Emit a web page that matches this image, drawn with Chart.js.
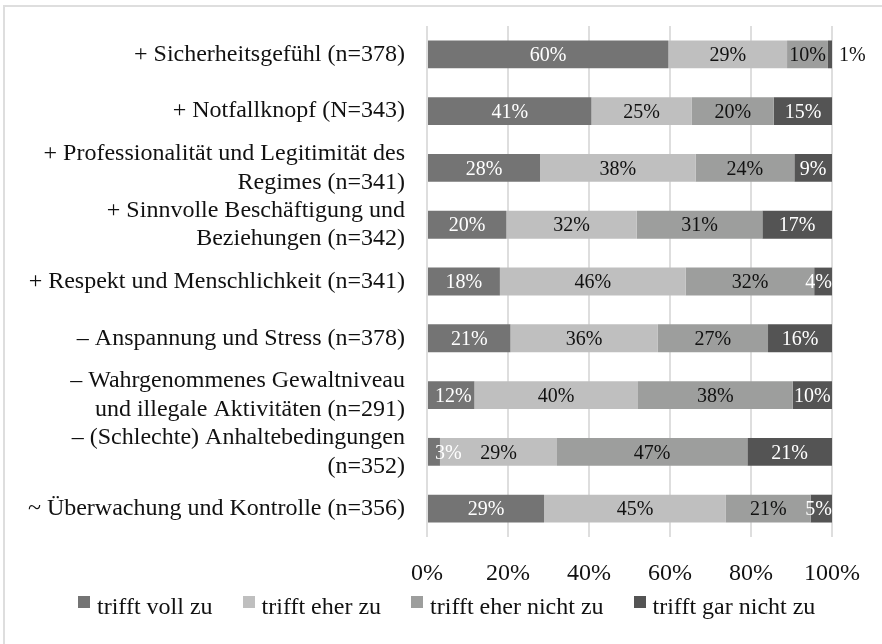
<!DOCTYPE html>
<html>
<head>
<meta charset="utf-8">
<title>Einschätzungen</title>
<script src="https://cdn.jsdelivr.net/npm/chart.js@4.4.0/dist/chart.umd.min.js"></script>
<style>
  html, body { margin: 0; padding: 0; background: #fff; }
  #wrap { position: relative; width: 882px; height: 644px; overflow: hidden;
          font-family: "Liberation Serif", "Times New Roman", serif; }
  #frame { position: absolute; left: 3px; top: 5px; width: 900px; height: 700px;
           border-left: 2px solid #dedede; border-top: 2px solid #dedede; }
  canvas { position: absolute; left: 0; top: 0; }
  #legend { position: absolute; left: 78px; top: 592px; display: flex;
            font-size: 24px; line-height: 28px; color: #111; white-space: nowrap; }
  #legend .item { display: flex; align-items: center; margin-right: 30px; }
  #legend .box { width: 12px; height: 12px; margin-right: 7px; position: relative; top: -4px; }
</style>
</head>
<body>
<div id="wrap">
  <div id="frame"></div>
  <canvas id="chart" width="882" height="644"></canvas>
  <div id="legend"></div>
</div>
<script>
// categories, top to bottom
const categories = [
  '+ Sicherheitsgefühl (n=378)',
  '+ Notfallknopf (N=343)',
  ['+ Professionalität und Legitimität des', 'Regimes (n=341)'],
  ['+ Sinnvolle Beschäftigung und', 'Beziehungen (n=342)'],
  '+ Respekt und Menschlichkeit (n=341)',
  '– Anspannung und Stress (n=378)',
  ['– Wahrgenommenes Gewaltniveau', 'und illegale Aktivitäten (n=291)'],
  ['– (Schlechte) Anhaltebedingungen', '(n=352)'],
  '~ Überwachung und Kontrolle (n=356)'
];

// shares in percent
const trifftVollZu      = [59.6, 40.6, 27.9, 19.6, 18.0, 20.6, 11.7,  3.2, 28.9];
const trifftEherZu      = [29.3, 24.8, 38.4, 32.2, 45.9, 36.4, 40.4, 28.9, 44.9];
const trifftEherNicht   = [10.1, 20.2, 24.4, 31.0, 31.7, 27.2, 38.2, 47.0, 20.9];
const trifftGarNicht    = [ 1.0, 14.5,  9.3, 17.2,  4.4, 15.8,  9.7, 20.9,  5.3];

const seriesNames = ['trifft voll zu', 'trifft eher zu', 'trifft eher nicht zu', 'trifft gar nicht zu'];
const xTicks = [0, 20, 40, 60, 80, 100];

const colors = ['#747474', '#bfbfbf', '#9d9e9d', '#545454'];
const labelColors = ['#ffffff', '#111111', '#111111', '#ffffff'];
const serif = '"Liberation Serif", "Times New Roman", serif';

// value labels inside the segments
const barLabels = {
  id: 'barLabels',
  afterDatasetsDraw(chart) {
    const ctx = chart.ctx;
    const area = chart.chartArea;
    ctx.save();
    ctx.font = '20px ' + serif;
    ctx.textBaseline = 'middle';
    chart.data.datasets.forEach((ds, i) => {
      const meta = chart.getDatasetMeta(i);
      meta.data.forEach((bar, j) => {
        const value = ds.data[j];
        const text = Math.round(value) + '%';
        const w = ctx.measureText(text).width;
        const y = bar.y + 1.5;
        if (value < 2) {
          // tiny slice: label sits right of the bar
          ctx.fillStyle = '#111111';
          ctx.textAlign = 'left';
          ctx.fillText(text, area.right + 7, y);
          return;
        }
        let x = (bar.x + bar.base) / 2;
        x = Math.max(x, area.left + 8 + w / 2);
        x = Math.min(x, area.right - w / 2);
        ctx.fillStyle = labelColors[i];
        ctx.textAlign = 'center';
        ctx.fillText(text, x, y);
      });
    });
    ctx.restore();
  }
};

const allSeries = [trifftVollZu, trifftEherZu, trifftEherNicht, trifftGarNicht];

const chart = new Chart(document.getElementById('chart'), {
  type: 'bar',
  data: {
    labels: categories,
    datasets: allSeries.map((values, i) => ({
      label: seriesNames[i],
      data: values,
      backgroundColor: colors[i],
      borderWidth: 0,
      barPercentage: 0.49,
      categoryPercentage: 1
    }))
  },
  options: {
    indexAxis: 'y',
    responsive: false,
    devicePixelRatio: 1,
    animation: false,
    layout: {
      padding: { left: 0, right: 44, top: 26, bottom: 53 }
    },
    plugins: {
      tooltip: { enabled: false },
      legend: { display: false }
    },
    scales: {
      x: {
        stacked: true,
        min: 0,
        max: 100,
        afterBuildTicks: (scale) => {
          scale.ticks = xTicks.map(v => ({ value: v }));
        },
        afterFit: (scale) => { scale.height = 54; },
        grid: { color: '#dedede', lineWidth: 2, drawTicks: false },
        border: { display: false },
        ticks: {
          font: { family: serif, size: 24 },
          color: '#111111',
          padding: 22,
          maxRotation: 0,
          callback: (v) => v + '%'
        }
      },
      y: {
        stacked: true,
        afterFit: (scale) => {
          scale.width = 427;
          scale.paddingTop = 0;
          scale.paddingBottom = 0;
        },
        grid: { display: false, drawTicks: false },
        border: { display: false },
        ticks: {
          autoSkip: false,
          font: { family: serif, size: 24 },
          color: '#111111',
          padding: 22
        }
      }
    }
  },
  plugins: [barLabels]
});

// legend as html, built from the chart's datasets
const legendEl = document.getElementById('legend');
chart.data.datasets.forEach((ds) => {
  const item = document.createElement('div');
  item.className = 'item';
  const box = document.createElement('span');
  box.className = 'box';
  box.style.background = ds.backgroundColor;
  const txt = document.createElement('span');
  txt.textContent = ds.label;
  item.appendChild(box);
  item.appendChild(txt);
  legendEl.appendChild(item);
});
</script>
</body>
</html>
